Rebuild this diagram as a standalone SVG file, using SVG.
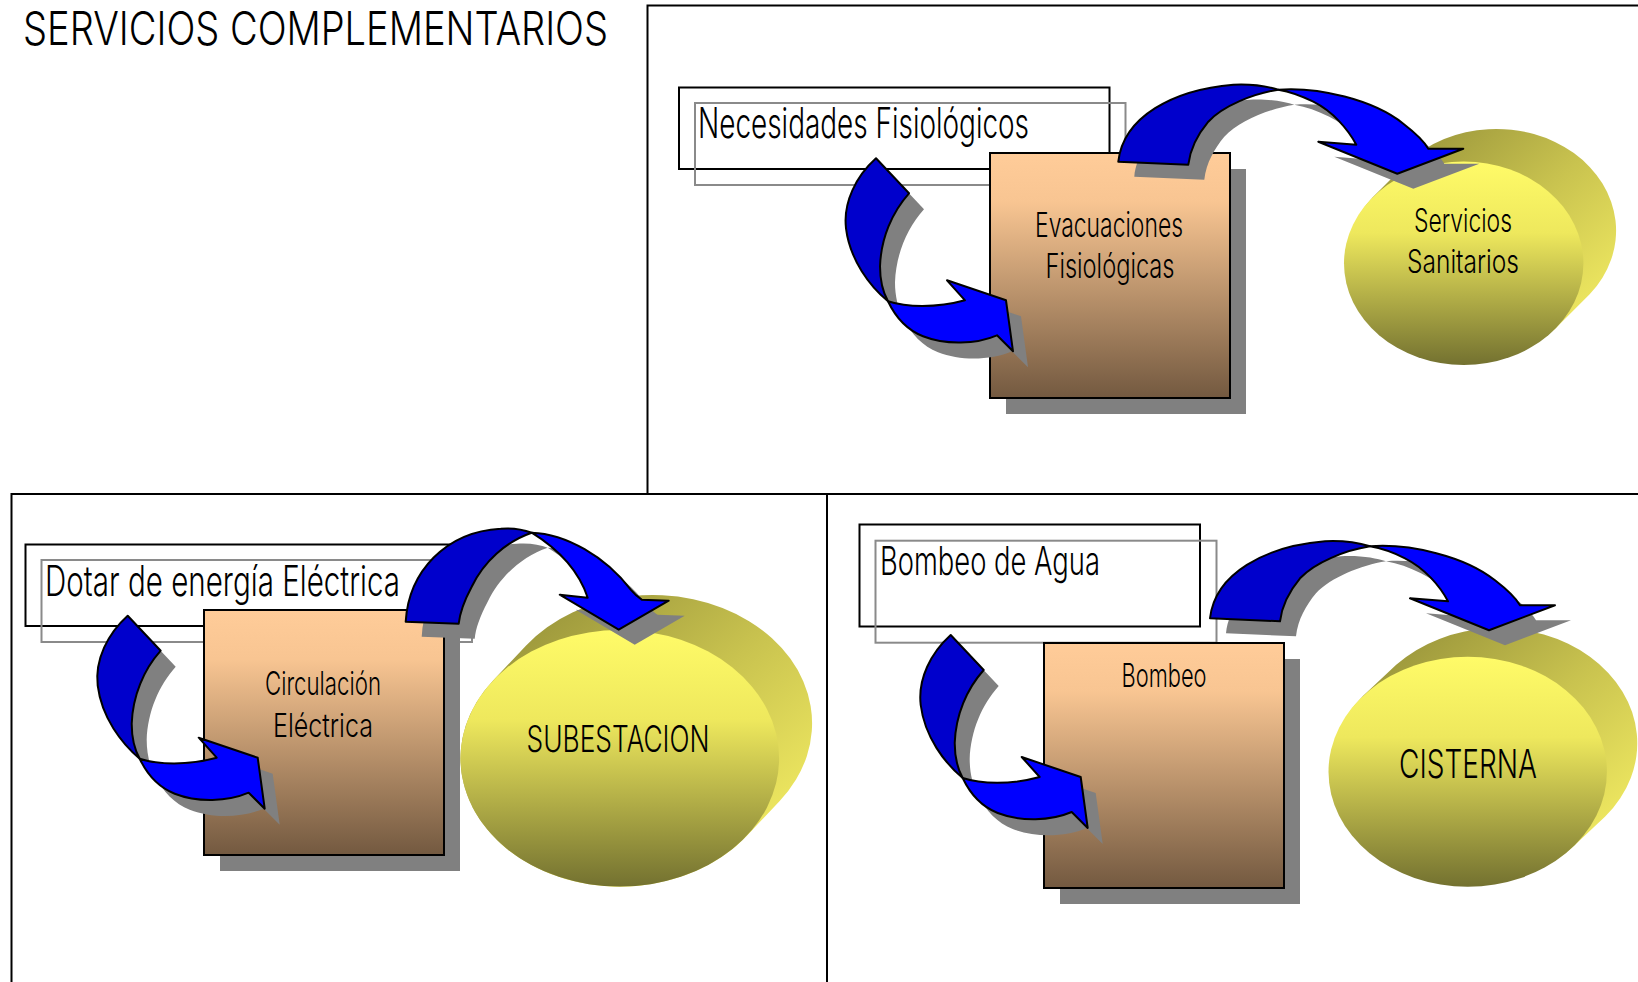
<svg xmlns="http://www.w3.org/2000/svg" width="1638" height="982" viewBox="0 0 1638 982">
<defs>
<style>
  .panel{fill:none;stroke:#000;stroke-width:2}
  .lblA{fill:none;stroke:#000;stroke-width:2}
  .lblB{fill:none;stroke:#8a8a8a;stroke-width:2}
  .box{fill:url(#boxGrad);stroke:#000;stroke-width:2}
  .shadow{fill:#808080}
  .front{fill:url(#frontGrad)}
  .back{fill:url(#backGrad)}
  .dark{fill:#0000CC;stroke:#000;stroke-width:2;stroke-linejoin:round}
  .light{fill:#0000FF;stroke:#000;stroke-width:2;stroke-linejoin:round}
  .t{font-family:Inter,"Liberation Sans",sans-serif;font-weight:300;fill:#000}
</style>
<linearGradient id="boxGrad" x1="0" y1="0" x2="0" y2="1">
  <stop offset="0" stop-color="#FFCC99"/>
  <stop offset="0.2" stop-color="#F8C592"/>
  <stop offset="1" stop-color="#735940"/>
</linearGradient>
<linearGradient id="frontGrad" x1="0" y1="0" x2="0" y2="1">
  <stop offset="0" stop-color="#FFFB68"/>
  <stop offset="0.35" stop-color="#EEE85D"/>
  <stop offset="1" stop-color="#737130"/>
</linearGradient>
<linearGradient id="backGrad" x1="0" y1="0" x2="1" y2="1">
  <stop offset="0" stop-color="#8A8634"/>
  <stop offset="0.5" stop-color="#C9C34F"/>
  <stop offset="1" stop-color="#FFF868"/>
</linearGradient>

<!-- small curved arrow: dark back band + bright front band with head -->
<path id="smDark" d="M0,0 L33,35 C16,54 5,80 4,108 C4,122 7,134 12,143 C-6,128 -26,102 -30,70 C-33,44 -20,18 0,0 Z"/>
<path id="smLight" d="M12,143 C30,149 60,150 89,142 L71,122 L130,142 L137,193 L121,177 C100,186 70,187 47,178 C32,172 20,160 12,143 Z"/>
<g id="arrowSmall">
  <g class="shadow" transform="translate(15,16)"><use href="#smDark"/><use href="#smLight"/></g>
  <use href="#smDark" class="dark"/>
  <use href="#smLight" class="light"/>
</g>

<!-- wide arching arrow -->
<path id="bgDarkA" d="M0,0 C5,-45 55,-72 115,-77 C135,-78 150,-75 160,-72 C135,-68 105,-56 90,-40 C80,-28 72,-14 70,3 Z"/>
<path id="bgLightA" d="M160,-72 C200,-75 255,-62 285,-38 C298,-28 306,-20 310,-13 L345,-13 L279,12 L200,-20 L238,-17 C230,-32 215,-50 195,-60 C183,-66 172,-70 160,-72 Z"/>
<g id="arrowWide">
  <g class="shadow" transform="translate(16,15)"><use href="#bgDarkA"/><use href="#bgLightA"/></g>
  <use href="#bgDarkA" class="dark"/>
  <use href="#bgLightA" class="light"/>
</g>

<!-- tall arching arrow -->
<path id="bgDarkB" d="M0,0 C3,-50 40,-90 95,-93 C108,-94 118,-92 126,-89 C100,-80 78,-60 66,-35 C58,-20 54,-8 53,2 Z"/>
<path id="bgLightB" d="M126,-89 C160,-88 200,-65 225,-32 C230,-26 233,-24 236,-22 L263,-21 L213,8 L154,-27 L182,-24 C175,-45 160,-68 126,-89 Z"/>
<g id="arrowTall">
  <g class="shadow" transform="translate(16,15)"><use href="#bgDarkB"/><use href="#bgLightB"/></g>
  <use href="#bgDarkB" class="dark"/>
  <use href="#bgLightB" class="light"/>
</g>
</defs>

<rect width="1638" height="982" fill="#fff"/>

<!-- frames -->
<g id="frames">
  <rect class="panel" x="647.5" y="5.5" width="1100" height="488.5"/>
  <rect class="panel" x="11.5" y="494" width="815.5" height="600"/>
  <rect class="panel" x="827" y="494" width="900" height="600"/>
</g>

<g id="title">
  <text class="t" x="23" y="45" font-size="47" textLength="585" lengthAdjust="spacingAndGlyphs">SERVICIOS COMPLEMENTARIOS</text>
</g>

<!-- upper panel -->
<g id="label-necesidades">
  <rect class="lblA" x="679" y="87.5" width="430.5" height="81.5"/>
  <rect class="lblB" x="695" y="103" width="430.5" height="82"/>
  <text class="t" x="698" y="138" font-size="42" textLength="331" lengthAdjust="spacingAndGlyphs">Necesidades Fisiológicos</text>
</g>
<g id="node-servicios">
  <path class="back" d="M1372.5,197.5 L1407.5,162.5 A119.7 101.7 0 0 1 1589.9,294.1 L1554.9,329.1 A119.7 101.7 0 0 1 1372.5,197.5 Z"/>
  <ellipse class="front" cx="1463.7" cy="263.3" rx="119.7" ry="101.7"/>
  <text class="t" x="1463" y="231.7" font-size="33" text-anchor="middle" textLength="98" lengthAdjust="spacingAndGlyphs">Servicios</text>
  <text class="t" x="1463" y="273.3" font-size="33" text-anchor="middle" textLength="112" lengthAdjust="spacingAndGlyphs">Sanitarios</text>
</g>
<g id="node-evacuaciones">
  <rect class="shadow" x="1006" y="169" width="240" height="245"/>
  <rect class="box" x="990" y="153" width="240" height="245"/>
  <text class="t" x="1109" y="236.7" font-size="34" text-anchor="middle" textLength="148" lengthAdjust="spacingAndGlyphs">Evacuaciones</text>
  <text class="t" x="1110" y="278" font-size="34" text-anchor="middle" textLength="129" lengthAdjust="spacingAndGlyphs">Fisiológicas</text>
</g>

<!-- lower left panel -->
<g id="label-energia">
  <rect class="lblA" x="25.5" y="544.5" width="430.5" height="81.5"/>
  <rect class="lblB" x="41.5" y="560" width="430.5" height="82"/>
  <text class="t" x="45" y="596" font-size="42" textLength="355" lengthAdjust="spacingAndGlyphs">Dotar de energía Eléctrica</text>
</g>
<g id="node-subestacion">
  <path class="back" d="M492.9,680.7 L525.9,645.7 A159.3 128.3 0 0 1 779.7,800.9 L746.7,835.9 A159.3 128.3 0 0 1 492.9,680.7 Z"/>
  <ellipse class="front" cx="619.8" cy="758.3" rx="159.3" ry="128.3"/>
  <text class="t" x="618" y="751.7" font-size="37" text-anchor="middle" textLength="183" lengthAdjust="spacingAndGlyphs">SUBESTACION</text>
</g>
<g id="node-circulacion">
  <rect class="shadow" x="220" y="626" width="240" height="245"/>
  <rect class="box" x="204" y="610" width="240" height="245"/>
  <text class="t" x="323" y="695" font-size="33" text-anchor="middle" textLength="116" lengthAdjust="spacingAndGlyphs">Circulación</text>
  <text class="t" x="323" y="736.7" font-size="33" text-anchor="middle" textLength="100" lengthAdjust="spacingAndGlyphs">Eléctrica</text>
</g>

<!-- lower right panel -->
<g id="label-bombeo-agua">
  <rect class="lblA" x="859.5" y="524.5" width="340.5" height="102"/>
  <rect class="lblB" x="875.5" y="540.7" width="341" height="102"/>
  <text class="t" x="880" y="575" font-size="39" textLength="220" lengthAdjust="spacingAndGlyphs">Bombeo de Agua</text>
</g>
<g id="node-cisterna">
  <path class="back" d="M1363.2,695.8 L1396.2,664.8 A139.2 115 0 0 1 1605.2,816.6 L1572.2,847.6 A139.2 115 0 0 1 1363.2,695.8 Z"/>
  <ellipse class="front" cx="1467.7" cy="771.7" rx="139.2" ry="115"/>
  <text class="t" x="1468" y="777.7" font-size="40" text-anchor="middle" textLength="138" lengthAdjust="spacingAndGlyphs">CISTERNA</text>
</g>
<g id="node-bombeo">
  <rect class="shadow" x="1060" y="659" width="240" height="245"/>
  <rect class="box" x="1044" y="643" width="240" height="245"/>
  <text class="t" x="1164" y="686.7" font-size="33" text-anchor="middle" textLength="85" lengthAdjust="spacingAndGlyphs">Bombeo</text>
</g>

<!-- connectors -->
<g id="connectors">
  <use href="#arrowSmall" transform="translate(876,158.3)"/>
  <use href="#arrowWide" transform="translate(1118.3,161.7)"/>
  <use href="#arrowSmall" transform="translate(127.7,615.7)"/>
  <use href="#arrowTall" transform="translate(405.7,621.7)"/>
  <use href="#arrowSmall" transform="translate(950.7,635)"/>
  <use href="#arrowWide" transform="translate(1210,618.3)"/>
</g>
</svg>
